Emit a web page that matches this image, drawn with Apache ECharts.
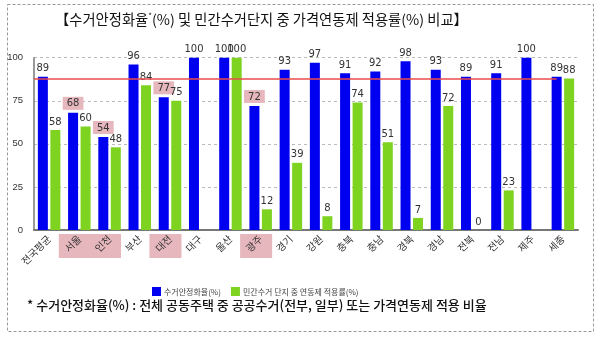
<!DOCTYPE html>
<html>
<head>
<meta charset="utf-8">
<script src="https://cdn.jsdelivr.net/npm/echarts@6.0.0/dist/echarts.min.js"></script>
<style>
  html, body { margin: 0; padding: 0; background: #fff; }
  #chart { width: 600px; height: 337px; }
</style>
</head>
<body>
<div id="chart"></div>
<script>
// Regions (시도)
const regions = ['전국평균', '서울', '인천', '부산', '대전', '대구', '울산', '광주', '경기',
  '강원', '충북', '충남', '경북', '경남', '전북', '전남', '제주', '세종'];

// 수거안정화율(%)
const stabilityRate = [89, 68, 54, 96, 77, 100, 100, 72, 93, 97, 91, 92, 98, 93, 89, 91, 100, 89];

// 민간수거 단지 중 연동제 적용률(%) — '-' = no data
const indexationRate = [58, 60, 48, 84, 75, '-', 100, 12, 39, 8, 74, 51, 7, 72, 0, 23, '-', 88];

// Reference level line
const referenceLevel = 88;

// Value axis ticks
const yTicks = [0, 25, 50, 75, 100];

// Regions emphasised with a shaded box (adjacent ones share one box)
const highlightGroups = [['서울', '인천'], ['대전'], ['광주']];

const seriesNames = ['수거안정화율(%)', '민간수거 단지 중 연동제 적용률(%)'];

const BLUE = '#0000f0';
const GREEN = '#7ed321';
const PINK = '#e6b7bd';
const KR = "'Noto Sans CJK KR', sans-serif";

const highlighted = new Set(highlightGroups.flat());

const chart = echarts.init(document.getElementById('chart'), null, { renderer: 'canvas' });

const labelBase = {
  show: true,
  position: 'top',
  distance: 3,
  color: '#333',
  fontSize: 10,
  fontFamily: "'DejaVu Sans', sans-serif"
};

const blueData = stabilityRate.map((v, i) => {
  if (!highlighted.has(regions[i])) return v;
  return {
    value: v,
    label: { backgroundColor: PINK, padding: [2, 4, 1, 4], distance: 3 }
  };
});

chart.setOption({
  animation: false,
  backgroundColor: '#fff',
  grid: { left: 34, right: 22, top: 57.7, bottom: 107 },
  legend: {
    left: 147,
    top: 282,
    itemWidth: 9,
    itemHeight: 9,
    itemGap: 10,
    icon: 'rect',
    textStyle: { fontSize: 8, color: '#444', fontFamily: KR, padding: [0, 0, 0, -2] },
    data: seriesNames
  },
  xAxis: {
    type: 'category',
    data: regions,
    axisLine: { lineStyle: { color: '#777', width: 2 } },
    axisTick: { show: false },
    axisLabel: {
      rotate: 45,
      interval: 0,
      margin: 7,
      fontSize: 10,
      color: '#333',
      fontFamily: KR
    }
  },
  yAxis: {
    type: 'value',
    min: yTicks[0],
    max: yTicks[yTicks.length - 1],
    interval: yTicks[1] - yTicks[0],
    axisLine: { show: true, lineStyle: { color: '#777', width: 1.5 } },
    axisTick: { show: false },
    axisLabel: { margin: 11, fontSize: 9.5, color: '#333', fontFamily: "'Liberation Sans', sans-serif" },
    splitLine: { lineStyle: { type: [3, 3], color: '#bbb' } }
  },
  series: [
    {
      name: seriesNames[0],
      type: 'bar',
      data: blueData,
      barWidth: 10,
      barGap: '25%',
      itemStyle: { color: BLUE },
      label: labelBase,
      markLine: {
        silent: true,
        symbol: 'none',
        label: { show: false },
        lineStyle: { color: '#ea4b4b', width: 1.5, type: 'solid' },
        data: [[
          { coord: [regions[0], referenceLevel], x: 34 },
          { coord: [regions[regions.length - 1], referenceLevel] }
        ]]
      },
      z: 3
    },
    {
      name: seriesNames[1],
      type: 'bar',
      data: indexationRate,
      barWidth: 10,
      itemStyle: { color: GREEN },
      label: labelBase,
      z: 3
    }
  ]
});

// Boxes behind the emphasised region names, placed from the category axis
const step = chart.convertToPixel({ xAxisIndex: 0 }, regions[1]) - chart.convertToPixel({ xAxisIndex: 0 }, regions[0]);
const axisY = chart.convertToPixel({ yAxisIndex: 0 }, 0);
const graphics = highlightGroups.map(group => {
  const x0 = chart.convertToPixel({ xAxisIndex: 0 }, group[0]);
  const x1 = chart.convertToPixel({ xAxisIndex: 0 }, group[group.length - 1]);
  const left = x0 - step * 0.68;
  const right = x1 + step * 0.38;
  return {
    type: 'rect',
    z: -10,
    silent: true,
    shape: { x: left, y: axisY + 4, width: right - left, height: 24 },
    style: { fill: PINK }
  };
});

graphics.push(
  {
    type: 'rect',
    z: -20,
    silent: true,
    shape: { x: 7.5, y: 4.5, width: 586, height: 327 },
    style: { fill: null, stroke: '#999', lineWidth: 1, lineDash: [3, 2] }
  },
  {
    type: 'text',
    left: 55,
    top: 12,
    silent: true,
    style: {
      text: '【수거안정화율{sup|*}(%) 및 민간수거단지 중 가격연동제 적용률(%) 비교】',
      fontSize: 14.3,
      fontFamily: KR,
      fill: '#111',
      rich: {
        sup: { fontSize: 8, padding: [0, 0, 8, 0], fill: '#111', fontFamily: KR }
      }
    }
  },
  {
    type: 'text',
    left: 27,
    top: 299,
    silent: true,
    style: {
      text: '* 수거안정화율(%) : 전체 공동주택 중 공공수거(전부, 일부) 또는 가격연동제 적용 비율',
      fontSize: 13,
      fontFamily: KR,
      fontWeight: 500,
      fill: '#111'
    }
  }
);

chart.setOption({ graphic: graphics });
</script>
</body>
</html>
